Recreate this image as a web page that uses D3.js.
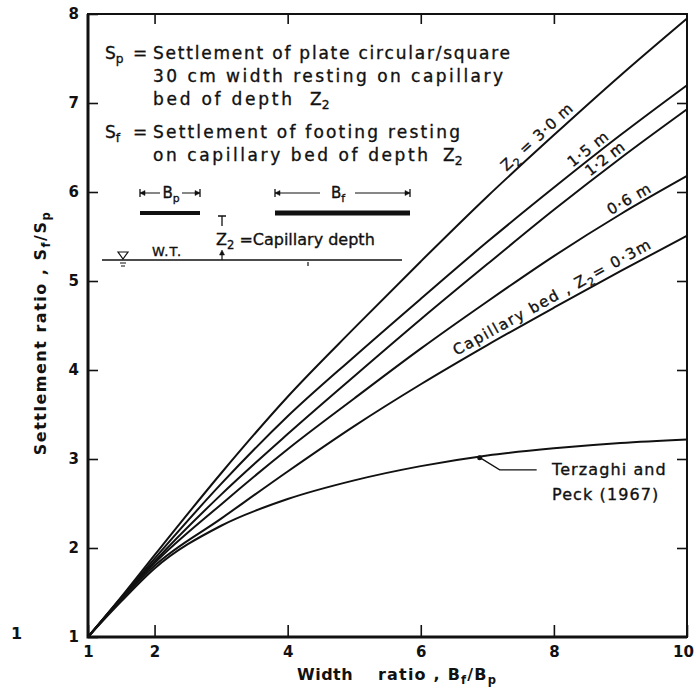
<!DOCTYPE html>
<html>
<head>
<meta charset="utf-8">
<script src="https://cdn.jsdelivr.net/npm/d3@7"></script>
<style>
  body { margin: 0; background: #fff; }
  text { font-family: "DejaVu Sans", sans-serif; fill: #111; }
</style>
</head>
<body>
<svg id="chart" width="696" height="689"></svg>
<script>
// values
const widthRatio = [1, 1.5, 2, 3, 4, 5, 6, 7, 8, 9, 10]
const z30 = [1, 1.45, 1.92, 2.84, 3.70, 4.47, 5.22, 5.95, 6.64, 7.31, 7.95]
const z15 = [1, 1.44, 1.88, 2.72, 3.48, 4.15, 4.80, 5.44, 6.05, 6.64, 7.20]
const z12 = [1, 1.44, 1.85, 2.60, 3.28, 3.93, 4.57, 5.19, 5.80, 6.38, 6.93]
const z06 = [1, 1.43, 1.83, 2.49, 3.11, 3.68, 4.24, 4.77, 5.28, 5.75, 6.18]
const z03 = [1, 1.42, 1.80, 2.33, 2.86, 3.37, 3.84, 4.28, 4.70, 5.11, 5.51]
const terzaghi = [1, 1.40, 1.77, 2.25, 2.55, 2.76, 2.92, 3.04, 3.12, 3.18, 3.22]

const xTicks = [1, 2, 4, 6, 8, 10]
const yTicks = [1, 2, 3, 4, 5, 6, 7, 8]

const margin = { left: 88, right: 687, top: 14, bottom: 637 }
const svg = d3.select('#chart')
svg.append('rect').attr('width', 696).attr('height', 689).attr('fill', '#fff')

const x = d3.scaleLinear().domain([1, 10]).range([margin.left, margin.right])
const y = d3.scaleLinear().domain([1, 8]).range([margin.bottom, margin.top])

// axes, ticks pointing inward
svg.append('g').attr('class', 'axis')
  .attr('transform', `translate(0,${margin.bottom})`)
  .call(d3.axisBottom(x).tickValues(xTicks).tickSize(-12).tickPadding(9).tickFormat(d3.format('d')))
svg.append('g').attr('class', 'axis')
  .attr('transform', `translate(${margin.left},0)`)
  .call(d3.axisLeft(y).tickValues(yTicks).tickSize(-10).tickPadding(9).tickFormat(d3.format('d')))
svg.append('g').attr('class', 'axis')
  .attr('transform', `translate(0,${margin.top})`)
  .call(d3.axisTop(x).tickValues([2, 4, 6, 8]).tickSize(-10).tickFormat(''))
svg.append('g').attr('class', 'axis')
  .attr('transform', `translate(${margin.right},0)`)
  .call(d3.axisRight(y).tickValues([2, 3, 4, 5, 6, 7]).tickSize(-10).tickFormat(''))

svg.selectAll('.axis .domain').remove()
svg.selectAll('.axis .tick line').attr('stroke', '#111').attr('stroke-width', 1.6)
svg.selectAll('.axis .tick text')
  .style('font-family', '"DejaVu Sans", sans-serif')
  .style('font-size', '15px').style('font-weight', 'bold').attr('fill', '#111')
// keep the last x label inside the page
svg.selectAll('.axis .tick text').filter(d => d === 10).attr('dx', -4)

// frame
svg.append('rect')
  .attr('x', margin.left).attr('y', margin.top)
  .attr('width', margin.right - margin.left).attr('height', margin.bottom - margin.top)
  .attr('fill', 'none').attr('stroke', '#111').attr('stroke-width', 2)
svg.append('path')
  .attr('d', `M${margin.left},${margin.top}V${margin.bottom}H${margin.right}`)
  .attr('fill', 'none').attr('stroke', '#111').attr('stroke-width', 3)

// curves
const line = d3.line()
  .x((d, i) => x(widthRatio[i]))
  .y(d => y(d))
  .curve(d3.curveMonotoneX)

const series = [z30, z15, z12, z06, z03, terzaghi]
svg.append('g').selectAll('path')
  .data(series)
  .enter()
  .append('path')
  .attr('d', line)
  .attr('fill', 'none')
  .attr('stroke', '#111')
  .attr('stroke-width', 2)

// text with sub-scripts: parts = [[str, isSub], ...]
function rich (sel, parts) {
  parts.forEach(p => {
    const t = sel.append('tspan').text(p[0])
    if (p[1]) t.attr('baseline-shift', '-0.35em').style('font-size', '0.72em')
  })
  return sel
}

function valueAt (values, n) {
  const i = Math.min(d3.bisectRight(widthRatio, n) - 1, widthRatio.length - 2)
  const t = (n - widthRatio[i]) / (widthRatio[i + 1] - widthRatio[i])
  return values[i] + t * (values[i + 1] - values[i])
}

function curveLabel (values, n, offset, parts, size, spacing) {
  const x0 = x(n - 0.2); const y0 = y(valueAt(values, n - 0.2))
  const x1 = x(n + 0.2); const y1 = y(valueAt(values, n + 0.2))
  const ang = Math.atan2(y1 - y0, x1 - x0) * 180 / Math.PI
  const t = svg.append('text')
    .attr('class', 'heavy')
    .attr('transform', `translate(${x(n)},${y(valueAt(values, n))}) rotate(${ang})`)
    .attr('y', -offset)
    .attr('text-anchor', 'middle')
    .style('font-size', size + 'px')
    .style('letter-spacing', spacing + 'px')
  rich(t, parts)
}

curveLabel(z30, 7.85, 5, [['Z'], ['2', true], [' = 3·0 m']], 15, 1)
curveLabel(z15, 8.6, 4, [['1·5 m']], 15, 1)
curveLabel(z12, 8.85, 4, [['1·2 m']], 15, 0.5)
curveLabel(z06, 9.2, 4, [['0·6 m']], 15, 1)
curveLabel(z03, 8.05, 5, [['Capillary bed , Z'], ['2', true], ['= 0·3m']], 15, 1.6)

// Terzaghi and Peck pointer
const tn = 6.87
const tx = x(tn); const ty = y(valueAt(terzaghi, tn))
svg.append('path')
  .attr('d', `M${tx},${ty}L${tx + 21},${ty + 13}H${tx + 58}`)
  .attr('fill', 'none').attr('stroke', '#111').attr('stroke-width', 1.3)
svg.append('circle').attr('cx', tx + 1).attr('cy', ty + 1).attr('r', 2.5).attr('fill', '#111')
svg.append('text').attr('class', 'heavy').attr('x', 552).attr('y', 475).style('font-size', '16px').style('letter-spacing', '1.1px').text('Terzaghi and')
svg.append('text').attr('class', 'heavy').attr('x', 552).attr('y', 500).style('font-size', '16px').style('letter-spacing', '1.1px').text('Peck (1967)')

// legend text block
const note = svg.append('g').style('font-size', '17px')
rich(note.append('text').attr('x', 105).attr('y', 59), [['S'], ['p', true]])
note.append('text').attr('x', 133).attr('y', 59).text('=')
note.append('text').attr('x', 153).attr('y', 59).attr('textLength', 357).text('Settlement of plate circular/square')
note.append('text').attr('x', 153).attr('y', 82).attr('textLength', 350).text('30 cm width resting on capillary')
note.append('text').attr('x', 153).attr('y', 105).attr('textLength', 139).text('bed of depth')
rich(note.append('text').attr('x', 310).attr('y', 105), [['Z'], ['2', true]])
rich(note.append('text').attr('x', 105).attr('y', 138), [['S'], ['f', true]])
note.append('text').attr('x', 133).attr('y', 138).text('=')
note.append('text').attr('x', 153).attr('y', 138).attr('textLength', 307).text('Settlement of footing resting')
note.append('text').attr('x', 153).attr('y', 161).attr('textLength', 275).text('on capillary bed of depth')
rich(note.append('text').attr('x', 443).attr('y', 161), [['Z'], ['2', true]])
note.selectAll('text').attr('class', 'heavy')

// sketch of plate, footing and water table
const sk = svg.append('g').attr('stroke', '#111').attr('fill', 'none')
function dim (x0, x1, yy, gap0, gap1) {
  sk.append('path').attr('d', `M${x0},${yy - 4}V${yy + 4}M${x1},${yy - 4}V${yy + 4}`).attr('stroke-width', 1.3)
  sk.append('path').attr('d', `M${x0},${yy}H${gap0}M${gap1},${yy}H${x1}`).attr('stroke-width', 1.1)
  sk.append('path').attr('d', `M${x0},${yy}l5,-2.5v5zM${x1},${yy}l-5,-2.5v5z`).attr('fill', '#111').attr('stroke-width', 0.5)
}
dim(140, 200, 193, 160, 182)
dim(275, 410, 193, 320, 355)
rich(svg.append('text').attr('class', 'heavy').attr('x', 171).attr('y', 198).attr('text-anchor', 'middle').style('font-size', '15px'), [['B'], ['p', true]])
rich(svg.append('text').attr('class', 'heavy').attr('x', 338).attr('y', 198).attr('text-anchor', 'middle').style('font-size', '15px'), [['B'], ['f', true]])
sk.append('line').attr('x1', 140).attr('x2', 200).attr('y1', 213).attr('y2', 213).attr('stroke-width', 4)
sk.append('line').attr('x1', 275).attr('x2', 410).attr('y1', 213).attr('y2', 213).attr('stroke-width', 5)
sk.append('path').attr('d', 'M218,216H226M222,216V226').attr('stroke-width', 1.3)
sk.append('path').attr('d', 'M222,260V252').attr('stroke-width', 1.2)
sk.append('path').attr('d', 'M222,250l-2.5,5h5z').attr('fill', '#111').attr('stroke-width', 0.5)
sk.append('line').attr('x1', 102).attr('x2', 402).attr('y1', 260).attr('y2', 260).attr('stroke-width', 1.3)
sk.append('path').attr('d', 'M118,252H128L123,259Z').attr('stroke-width', 1.2)
sk.append('path').attr('d', 'M120,263H126M121,266H125M308,262V266').attr('stroke-width', 1.2)
svg.append('text').attr('class', 'heavy').attr('x', 152).attr('y', 256).style('font-size', '13px').style('letter-spacing', '1px').text('W.T.')
rich(svg.append('text').attr('class', 'heavy').attr('x', 216).attr('y', 245).style('font-size', '16px'), [['Z'], ['2', true], [' =Capillary depth']])

// axis titles
rich(svg.append('text')
  .attr('transform', 'translate(46,333) rotate(-90)')
  .attr('text-anchor', 'middle')
  .style('font-size', '16px').style('font-weight', 'bold').style('letter-spacing', '1.5px'),
[['Settlement ratio , S'], ['f', true], ['/S'], ['p', true]])
svg.append('text').attr('x', 297).attr('y', 680)
  .style('font-size', '16px').style('font-weight', 'bold').style('letter-spacing', '0.5px').text('Width')
rich(svg.append('text').attr('x', 378).attr('y', 680)
  .style('font-size', '16px').style('font-weight', 'bold').style('letter-spacing', '1.2px'),
[['ratio , B'], ['f', true], ['/B'], ['p', true]])

svg.append('text').attr('x', 11).attr('y', 639).style('font-size', '16px').style('font-weight', 'bold').text('1')

svg.selectAll('text.heavy').style('stroke', '#111').style('stroke-width', 0.35)
</script>
</body>
</html>
